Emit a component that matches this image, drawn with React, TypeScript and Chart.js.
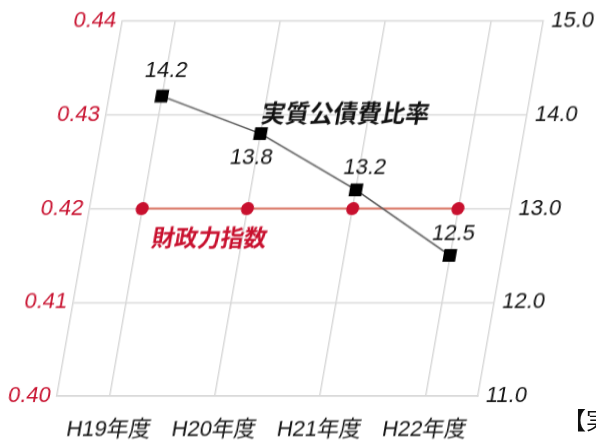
import React, { useEffect, useRef } from "react";
import { Chart, registerables } from "chart.js";

Chart.register(...registerables);

const categories = ["H19年度", "H20年度", "H21年度", "H22年度"];
const debtRatio = [14.2, 13.8, 13.2, 12.5];
const fiscalIndex = [0.42, 0.42, 0.42, 0.42];
const debtLabel = "実質公債費比率";
const fiscalLabel = "財政力指数";
const leftTicks = { min: 0.4, max: 0.44, step: 0.01 };
const rightTicks = { min: 11, max: 15, step: 1 };

const RED = "#c8102e";
const GRID = "#d9d9d9";
const NUM_FONT = "'Liberation Sans', Arial, 'Noto Sans CJK JP', sans-serif";
const CJK_FONT = "'Noto Sans CJK JP', 'Liberation Sans', sans-serif";

const labelPlugin = {
  id: "labels",
  afterDatasetsDraw(chart: any) {
    const ctx = chart.ctx;
    const area = chart.chartArea;
    const meta = chart.getDatasetMeta(1);
    const offs = [[0, -25], [-5, 24], [5, -22], [0, -22]];
    ctx.save();
    ctx.textAlign = "center";
    ctx.textBaseline = "middle";
    ctx.fillStyle = "#111";
    ctx.font = `22px ${NUM_FONT}`;
    meta.data.forEach((pt: any, i: number) => {
      const o = offs[i] || [0, -24];
      ctx.fillText(debtRatio[i].toFixed(1), pt.x + o[0], pt.y + o[1]);
    });
    const y1 = chart.scales.y1;
    const y = chart.scales.y;
    ctx.font = `600 24px ${CJK_FONT}`;
    ctx.fillStyle = "#111";
    ctx.fillText(debtLabel, area.left + area.width * 0.569, y1.getPixelForValue(14.02));
    ctx.font = `600 23px ${CJK_FONT}`;
    ctx.fillStyle = RED;
    ctx.fillText(fiscalLabel, area.left + area.width * 0.297, y.getPixelForValue(0.4169));
    ctx.restore();
  },
};

export default function App() {
  const ref = useRef<HTMLCanvasElement | null>(null);
  useEffect(() => {
    if (!ref.current) return;
    const chart = new Chart(ref.current, {
      type: "line",
      data: {
        labels: categories,
        datasets: [
          {
            label: fiscalLabel,
            data: fiscalIndex,
            yAxisID: "y",
            borderColor: "#d9705e",
            borderWidth: 2,
            pointStyle: "circle",
            pointRadius: 6.5,
            pointBackgroundColor: RED,
            pointBorderColor: RED,
            pointBorderWidth: 0,
            order: 2,
          },
          {
            label: debtLabel,
            data: debtRatio,
            yAxisID: "y1",
            borderColor: "#555",
            borderWidth: 1.5,
            pointStyle: "rect",
            pointRadius: 9,
            pointBackgroundColor: "#000",
            pointBorderColor: "#000",
            pointBorderWidth: 0,
            order: 1,
          },
        ],
      },
      options: {
        responsive: false,
        animation: false,
        devicePixelRatio: 1,
        layout: { padding: { top: 18, left: 0, right: 0, bottom: 0 } },
        plugins: { legend: { display: false }, tooltip: { enabled: false } },
        scales: {
          x: {
            type: "category",
            offset: true,
            grid: { offset: false, color: GRID, lineWidth: 1.5, drawTicks: false },
            border: { display: true, color: GRID, width: 1.5 },
            ticks: {
              color: "#111",
              font: { size: 22, family: NUM_FONT },
              padding: 21,
              labelOffset: 5,
              maxRotation: 0,
              autoSkip: false,
            },
            afterFit: (s: any) => {
              s.height = 45;
            },
          },
          y: {
            position: "left",
            min: leftTicks.min,
            max: leftTicks.max,
            grid: { color: GRID, lineWidth: 1.5, drawTicks: false },
            border: { display: true, color: GRID, width: 1.5 },
            ticks: {
              stepSize: leftTicks.step,
              color: RED,
              font: { size: 22, family: NUM_FONT },
              padding: 6,
              callback: (v: any) => Number(v).toFixed(2),
            },
            afterFit: (s: any) => {
              s.width = 126;
            },
          },
          y1: {
            position: "right",
            min: rightTicks.min,
            max: rightTicks.max,
            grid: { drawOnChartArea: false, drawTicks: false, color: GRID },
            border: { display: true, color: GRID, width: 1.5 },
            ticks: {
              stepSize: rightTicks.step,
              color: "#111",
              font: { size: 22, family: NUM_FONT },
              padding: 8,
              callback: (v: any) => Number(v).toFixed(1),
            },
            afterFit: (s: any) => {
              s.width = 73;
            },
          },
        },
      },
      plugins: [labelPlugin],
    } as any);
    return () => chart.destroy();
  }, []);

  return (
    <div
      style={{
        position: "fixed",
        left: 0,
        top: 0,
        width: 596,
        height: 441,
        overflow: "hidden",
        background: "#fff",
      }}
    >
      <div
        style={{
          position: "absolute",
          left: 0,
          top: 0,
          width: 620,
          height: 441,
          transform: "skewX(-9.9deg)",
          transformOrigin: "0 0",
        }}
      >
        <canvas ref={ref} width={620} height={441} style={{ width: 620, height: 441, display: "block" }} />
      </div>
      <div
        style={{
          position: "absolute",
          left: 562,
          top: 404,
          fontSize: 24,
          fontFamily: CJK_FONT,
          whiteSpace: "nowrap",
          color: "#111",
          lineHeight: "30px",
        }}
      >
        【実質公債費比率】
      </div>
    </div>
  );
}
